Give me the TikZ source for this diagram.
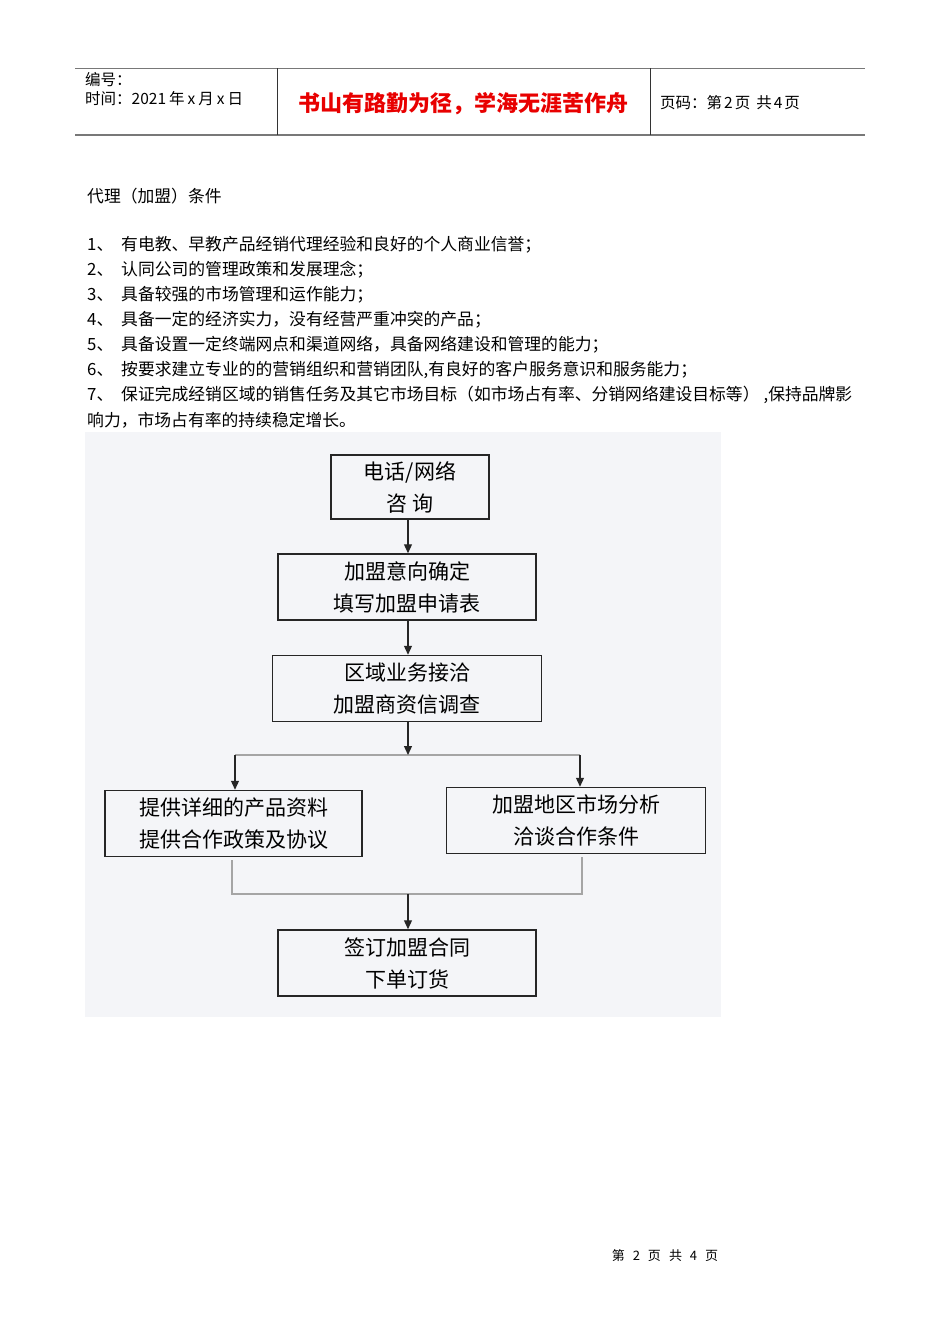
\documentclass[tikz,border=0pt]{standalone}
\usepackage{fontspec}
\setmainfont{Noto Sans CJK SC}
\usetikzlibrary{arrows.meta,positioning,calc}
\definecolor{chartbg}{RGB}{244,245,248}
\definecolor{rulegrey}{RGB}{120,120,120}
\definecolor{splitgrey}{RGB}{165,165,165}
\definecolor{motto}{RGB}{232,0,0}

\begin{document}
\begin{tikzpicture}[x=1pt, y=-1pt,
  box/.style={draw=black!85, line width=1.5pt, minimum width=#1, minimum height=66pt, align=center, inner sep=0pt, font=\fontsize{21}{32}\selectfont},
  arrow/.style={-{Triangle[length=9pt,width=8pt]}, line width=1.2pt, black!85},
  split/.style={line width=1.8pt, splitgrey},
  body/.style={anchor=west, inner sep=0pt, font=\fontsize{16.8}{25}\selectfont},
  head/.style={anchor=west, inner sep=0pt, font=\fontsize{15.5}{20}\selectfont},
]
  \useasboundingbox (0,0) rectangle (950,1344);
  \fill[white] (0,0) rectangle (950,1344);

  % page header
  \draw[rulegrey, line width=0.8pt] (75,68) -- (865,68);
  \draw[rulegrey, line width=1.8pt] (75,135) -- (865,135);
  \draw[black!80, line width=0.8pt] (277,68) -- (277,135);
  \draw[black!80, line width=0.8pt] (650,68) -- (650,135);
  \node[head] (no) at (85,80) {编号：};
  \node[head] (date) at (85,99) {时间：2021\hspace{3pt}年\hspace{3pt}x\hspace{3pt}月\hspace{3pt}x\hspace{3pt}日};
  \node[inner sep=0pt, font=\fontsize{22}{26}\selectfont\bfseries, text=motto] (motto) at (463,104) {书山有路勤为径，学海无涯苦作舟};
  \node[head] (pg) at (660,103) {页码：第\hspace{2pt}2\hspace{2pt}页\hspace{6pt}共\hspace{2pt}4\hspace{2pt}页};

  % conditions
  \node[body] (title) at (87,196) {代理（加盟）条件};
  \node[body] (n1) at (87,245) {1、};
  \node[body] (c1) at (121,245) {有电教、早教产品经销代理经验和良好的个人商业信誉；};
  \node[body] (n2) at (87,270) {2、};
  \node[body] (c2) at (121,270) {认同公司的管理政策和发展理念；};
  \node[body] (n3) at (87,295) {3、};
  \node[body] (c3) at (121,295) {具备较强的市场管理和运作能力；};
  \node[body] (n4) at (87,320) {4、};
  \node[body] (c4) at (121,320) {具备一定的经济实力，没有经营严重冲突的产品；};
  \node[body] (n5) at (87,345) {5、};
  \node[body] (c5) at (121,345) {具备设置一定终端网点和渠道网络，具备网络建设和管理的能力；};
  \node[body] (n6) at (87,370) {6、};
  \node[body] (c6) at (121,370) {按要求建立专业的的营销组织和营销团队,有良好的客户服务意识和服务能力；};
  \node[body] (n7) at (87,395) {7、};
  \node[body] (c7) at (121,395) {保证完成经销区域的销售任务及其它市场目标（如市场占有率、分销网络建设目标等）\hspace{4pt},保持品牌影};
  \node[body] (c7b) at (87,420) {响力，市场占有率的持续稳定增长。};

  % flow chart
  \fill[chartbg] (85,432) rectangle (721,1017);
  \node[box=158pt, minimum height=64pt] (call) at (410,487) {电话/网络\\咨\ 询};
  \node[box=258pt] (apply) at (407,587) {加盟意向确定\\填写加盟申请表};
  \node[box=269pt, below=34pt of apply] (check) {区域业务接洽\\加盟商资信调查};
  \node[box=257pt] (offer) at (233.5,823.5) {提供详细的产品资料\\提供合作政策及协议};
  \node[box=259pt] (talk) at (576,820.5) {加盟地区市场分析\\洽谈合作条件};
  \node[box=258pt] (sign) at (407,963) {签订加盟合同\\下单订货};

  \coordinate (fork) at (408,755);
  \coordinate (forkL) at (235,755);
  \coordinate (forkR) at (580,755);
  \coordinate (join) at (408,894);
  \coordinate (joinL) at (232,894);
  \coordinate (joinR) at (582,894);

  \draw[arrow] (call.south -| fork) -- (apply.north -| fork);
  \draw[arrow] (apply.south -| fork) -- (check.north -| fork);
  \draw[split] (forkL) -- (forkR);
  \draw[arrow] (check.south -| fork) -- (fork);
  \draw[arrow] (forkL) -- (forkL |- offer.north);
  \draw[arrow] (forkR) -- (forkR |- talk.north);
  \draw[split, shorten <=3pt] (offer.south -| joinL) -- (joinL) -- (join);
  \draw[split, shorten <=3pt] (talk.south -| joinR) -- (joinR) -- (join);
  \draw[arrow] (join) -- (sign.north -| join);

  % page footer
  \node[inner sep=0pt, font=\fontsize{13}{16}\selectfont] (foot) at (665,1256) {第\hspace{8pt}2\hspace{8pt}页\hspace{8pt}共\hspace{8pt}4\hspace{8pt}页};
\end{tikzpicture}
\end{document}
